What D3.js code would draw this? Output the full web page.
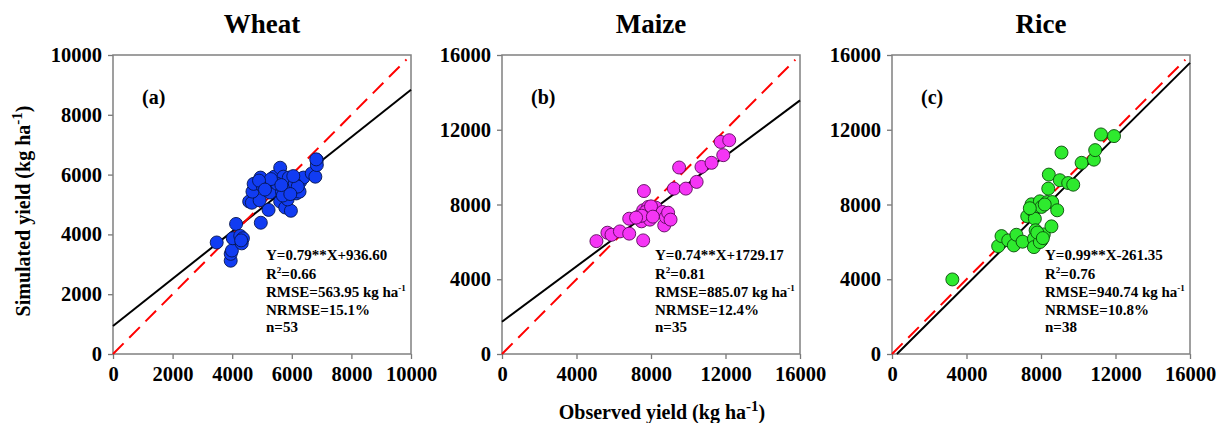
<!DOCTYPE html>
<html>
<head>
<meta charset="utf-8">
<script src="https://cdn.jsdelivr.net/npm/d3@7"></script>
<style>
  body { margin: 0; background: #fff; }
  svg { display: block; font-family: "Liberation Serif", "Times New Roman", serif; font-weight: bold; }
</style>
</head>
<body>
<svg width="1225" height="423"></svg>
<script>
// observed / simulated yields (kg/ha)
const wheatObs = [3480, 3950, 3950, 3990, 4130, 4020, 4270, 4320, 4360, 4960, 4570, 4660, 4920, 5220, 4680, 4720, 4950, 5030, 5270, 5390,
  5410, 5610, 5720, 5610, 5780, 5970, 5860, 5860, 5670, 6040, 6150, 6260, 6280, 6390, 6670, 6790, 6840, 6840, 6820,
  5500, 5800, 6000, 5300, 5900, 6100, 5700, 4900, 6200, 5100, 5650, 6050, 4300, 5950];
const wheatSim = [3730, 3120, 3350, 3460, 4350, 3870, 3950, 3700, 3870, 4390, 5100, 5060, 5140, 4820, 5430, 5690, 5900, 5600, 5400, 5760,
  5930, 6230, 5930, 5100, 4900, 4790, 5170, 5540, 5430, 5820, 5370, 5430, 5760, 5900, 6040, 5930, 6490, 6320, 6510,
  5700, 5400, 5500, 5850, 5900, 5700, 5300, 5800, 5600, 5500, 5650, 5950, 3800, 5350];

const maizeObs = [5070, 5660, 5880, 6330, 6830, 6830, 7580, 7620, 7490, 7360, 7580, 7850, 7940, 7940, 8120, 8260, 8620, 8710, 8800, 8920,
  9050, 9230, 9510, 9870, 10450, 10710, 11250, 11880, 11740, 12200, 7700, 8000, 7500, 8100, 7200];
const maizeSim = [6040, 6490, 6380, 6560, 6440, 7240, 6080, 8720, 7100, 7370, 7690, 7870, 7190, 7510, 7780, 7830, 7600, 6880, 7330, 7560,
  7190, 8850, 9980, 8850, 9210, 10010, 10230, 10640, 11350, 11440, 7600, 7900, 7400, 7350, 7300];

const riceObs = [3240, 5700, 5880, 6240, 6540, 6680, 7010, 7260, 7490, 7490, 7670, 7710, 7620, 7620, 8030, 8150, 7940, 8030, 8330, 8600,
  8560, 8390, 8420, 8870, 9010, 9100, 9460, 9730, 10180, 10840, 10910, 11220, 11920, 7940, 7800, 8100, 7400, 8200];
const riceSim = [3990, 5770, 6310, 6080, 5810, 6380, 6010, 7370, 8010, 7720, 7240, 6620, 6170, 5720, 6080, 6400, 8170, 7870, 8130, 8130,
  6830, 8850, 9600, 7690, 9300, 10780, 9150, 9060, 10230, 10400, 10910, 11750, 11660, 5990, 6500, 6200, 7800, 8000];

const crops = ["Wheat", "Maize", "Rice"];
const panelTags = ["(a)", "(b)", "(c)"];
const axisMax = [10000, 16000, 16000];
const tickValues = [[0, 2000, 4000, 6000, 8000, 10000], [0, 4000, 8000, 12000, 16000], [0, 4000, 8000, 12000, 16000]];
const slopes = [0.79, 0.74, 0.99];
const intercepts = [936.60, 1729.17, -261.35];
const oneToOneEnd = [9850, 15750, 15750];
const eqText = ["Y=0.79**X+936.60", "Y=0.74**X+1729.17", "Y=0.99**X-261.35"];
const r2Text = ["0.66", "0.81", "0.76"];
const rmseText = ["563.95", "885.07", "940.74"];
const nrmseText = ["15.1%", "12.4%", "10.8%"];
const nText = ["53", "35", "38"];

const obsData = [wheatObs, maizeObs, riceObs];
const simData = [wheatSim, maizeSim, riceSim];
const fills = ["#113cf2", "#f535f5", "#2eea2e"];
const strokes = ["#06154f", "#5a0a5a", "#0b4a0b"];

const svg = d3.select("svg");
const panelLeft = [113, 502, 892];
const W = 298, plotTop = 55, H = 299;

crops.forEach((crop, i) => {
  const g = svg.append("g").attr("transform", `translate(${panelLeft[i]},${plotTop})`);
  const x = d3.scaleLinear().domain([0, axisMax[i]]).range([0, W]);
  const y = d3.scaleLinear().domain([0, axisMax[i]]).range([H, 0]);

  const xAxis = g.append("g").attr("transform", `translate(0,${H})`)
    .call(d3.axisBottom(x).tickValues(tickValues[i]).tickFormat(d3.format("d")).tickSize(5).tickSizeOuter(0).tickPadding(7));
  const yAxis = g.append("g")
    .call(d3.axisLeft(y).tickValues(tickValues[i]).tickFormat(d3.format("d")).tickSize(5).tickSizeOuter(0).tickPadding(6));
  [xAxis, yAxis].forEach(a => {
    a.select(".domain").remove();
    a.selectAll("line").attr("stroke", "#777").attr("stroke-width", 1.3);
    a.selectAll("text").attr("font-size", 20.5).attr("fill", "#000");
    a.attr("font-family", null).attr("font-size", null);
  });

  g.append("rect").attr("width", W).attr("height", H)
    .attr("fill", "none").attr("stroke", "#808080").attr("stroke-width", 1.5);

  // fitted regression line
  const x0 = Math.max(0, -intercepts[i] / slopes[i]);
  g.append("line")
    .attr("x1", x(x0)).attr("y1", y(slopes[i] * x0 + intercepts[i]))
    .attr("x2", x(axisMax[i])).attr("y2", y(slopes[i] * axisMax[i] + intercepts[i]))
    .attr("stroke", "#000").attr("stroke-width", 2);

  // 1:1 line
  g.append("line")
    .attr("x1", x(0)).attr("y1", y(0))
    .attr("x2", x(oneToOneEnd[i])).attr("y2", y(oneToOneEnd[i]))
    .attr("stroke", "#f00").attr("stroke-width", 2).attr("stroke-dasharray", "15,8");

  g.selectAll("circle.pt")
    .data(obsData[i].map((o, k) => [o, simData[i][k]]))
    .enter().append("circle")
    .attr("class", "pt")
    .attr("cx", d => x(d[0])).attr("cy", d => y(d[1]))
    .attr("r", 6.5)
    .attr("fill", fills[i]).attr("stroke", strokes[i]).attr("stroke-width", 0.9);

  // title and panel tag
  g.append("text").attr("x", W / 2).attr("y", 33 - plotTop)
    .attr("text-anchor", "middle").attr("font-size", 27).text(crop);
  g.append("text").attr("x", 29).attr("y", 104 - plotTop).attr("font-size", 20).text(panelTags[i]);

  // statistics block
  const ann = g.append("g").attr("transform", `translate(153,${260 - plotTop})`).attr("font-size", 15);
  ann.append("text").attr("y", 0).text(eqText[i]);
  const r2 = ann.append("text").attr("y", 18.5);
  r2.append("tspan").text("R");
  r2.append("tspan").attr("font-size", 9).attr("dy", -6).text("2");
  r2.append("tspan").attr("dy", 6).text("=" + r2Text[i]);
  const rm = ann.append("text").attr("y", 37);
  rm.append("tspan").text("RMSE=" + rmseText[i] + " kg ha");
  rm.append("tspan").attr("font-size", 9).attr("dy", -6).text("-1");
  ann.append("text").attr("y", 54.5).text("NRMSE=" + nrmseText[i]);
  ann.append("text").attr("y", 72).text("n=" + nText[i]);
});

// shared axis titles
const yt = svg.append("text").attr("transform", "translate(30,211) rotate(-90)")
  .attr("text-anchor", "middle").attr("font-size", 20);
yt.append("tspan").text("Simulated yield (kg ha");
yt.append("tspan").attr("font-size", 15).attr("dy", -8).text("-1");
yt.append("tspan").attr("dy", 8).text(")");

const xt = svg.append("text").attr("x", 662).attr("y", 419)
  .attr("text-anchor", "middle").attr("font-size", 20);
xt.append("tspan").text("Observed yield (kg ha");
xt.append("tspan").attr("font-size", 15).attr("dy", -8).text("-1");
xt.append("tspan").attr("dy", 8).text(")");
</script>
</body>
</html>
